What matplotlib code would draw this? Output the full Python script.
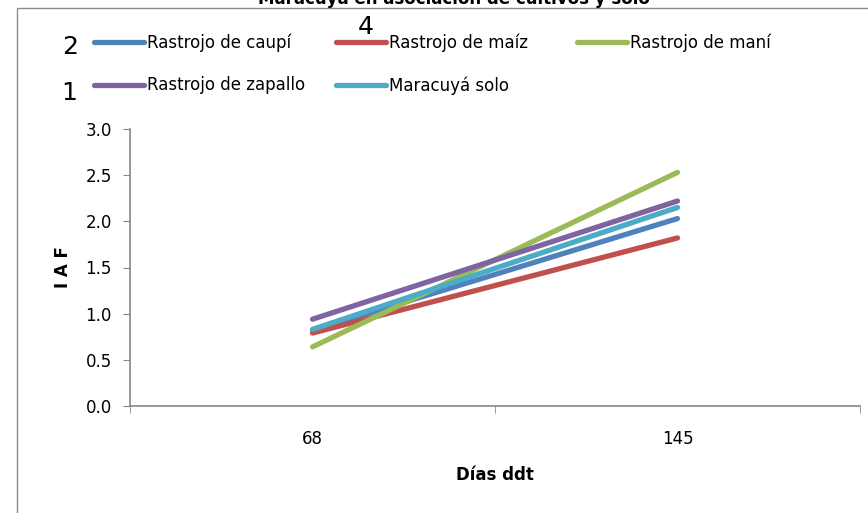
import matplotlib.pyplot as plt
from matplotlib.patches import Rectangle

# IAF de maracuyá por tratamiento a los 68 y 145 días después del trasplante
dias = ["68", "145"]
caupi = [0.82, 2.03]
maiz = [0.79, 1.82]
mani = [0.64, 2.53]
zapallo = [0.94, 2.22]
solo = [0.83, 2.15]

series = [
    ("Rastrojo de caupí", caupi, "#4F81BD"),
    ("Rastrojo de maíz", maiz, "#C0504D"),
    ("Rastrojo de maní", mani, "#9BBB59"),
    ("Rastrojo de zapallo", zapallo, "#8064A2"),
    ("Maracuyá solo", solo, "#4BACC6"),
]

W, H = 868, 513
fig = plt.figure(figsize=(W / 100, H / 100), dpi=100)
ax = fig.add_axes([130 / W, 1 - 406 / H, 730 / W, 277 / H])

x = list(range(len(dias)))
handles = {}
for name, vals, color in series:
    (ln,) = ax.plot(x, vals, color=color, lw=3.8, solid_capstyle="round")
    handles[name] = ln

ax.set_xlim(-0.5, len(dias) - 0.5)
ax.set_ylim(0, 3.0)
ax.set_yticks([0, 0.5, 1.0, 1.5, 2.0, 2.5, 3.0])
ax.set_yticklabels(["%.1f" % v for v in ax.get_yticks()])
ax.set_xticks(x)
ax.set_xticklabels(dias)
ax.set_xticks([-0.5, 0.5, 1.5], minor=True)

gray = "#868686"
for s in ["top", "right"]:
    ax.spines[s].set_visible(False)
for s in ["left", "bottom"]:
    ax.spines[s].set_color(gray)
    ax.spines[s].set_linewidth(1.2)
ax.tick_params(axis="y", direction="out", length=5, color=gray, labelsize=12, pad=8)
ax.tick_params(axis="x", which="major", length=0, labelsize=12, pad=17)
ax.tick_params(axis="x", which="minor", direction="out", length=5, color=gray)

ax.set_xlabel("Días ddt", fontsize=12, fontweight="bold", labelpad=13)
ax.set_ylabel("I A F", fontsize=12, fontweight="bold", labelpad=10)

# leyenda en columnas alineadas
cols = [
    (94, ["Rastrojo de caupí", "Rastrojo de zapallo"]),
    (336, ["Rastrojo de maíz", "Maracuyá solo"]),
    (577, ["Rastrojo de maní"]),
]
for x0, names in cols:
    fig.legend(
        [handles[n] for n in names], names,
        loc="upper left", bbox_to_anchor=(x0 / W, 1 - 33 / H),
        frameon=False, fontsize=12, handlelength=3.0, handletextpad=0.2,
        borderpad=0, borderaxespad=0, labelspacing=1.5,
    )

# marco exterior del gráfico
fig.add_artist(Rectangle((17 / W, -0.05), 1.1, 1 - 8 / H + 0.05,
                         transform=fig.transFigure, fill=False,
                         edgecolor="#8c8c8c", lw=1.0))

fig.text(454 / W, 1 - 4 / H, "Maracuyá en asociación de cultivos y solo",
         ha="center", va="baseline", fontsize=12, fontweight="bold")

fig.text(70 / W, 1 - 47 / H, "2", ha="center", va="center", fontsize=18)
fig.text(366 / W, 1 - 27 / H, "4", ha="center", va="center", fontsize=18)
fig.text(69 / W, 1 - 93 / H, "1", ha="center", va="center", fontsize=18)

fig.savefig("out.png", dpi=100)
